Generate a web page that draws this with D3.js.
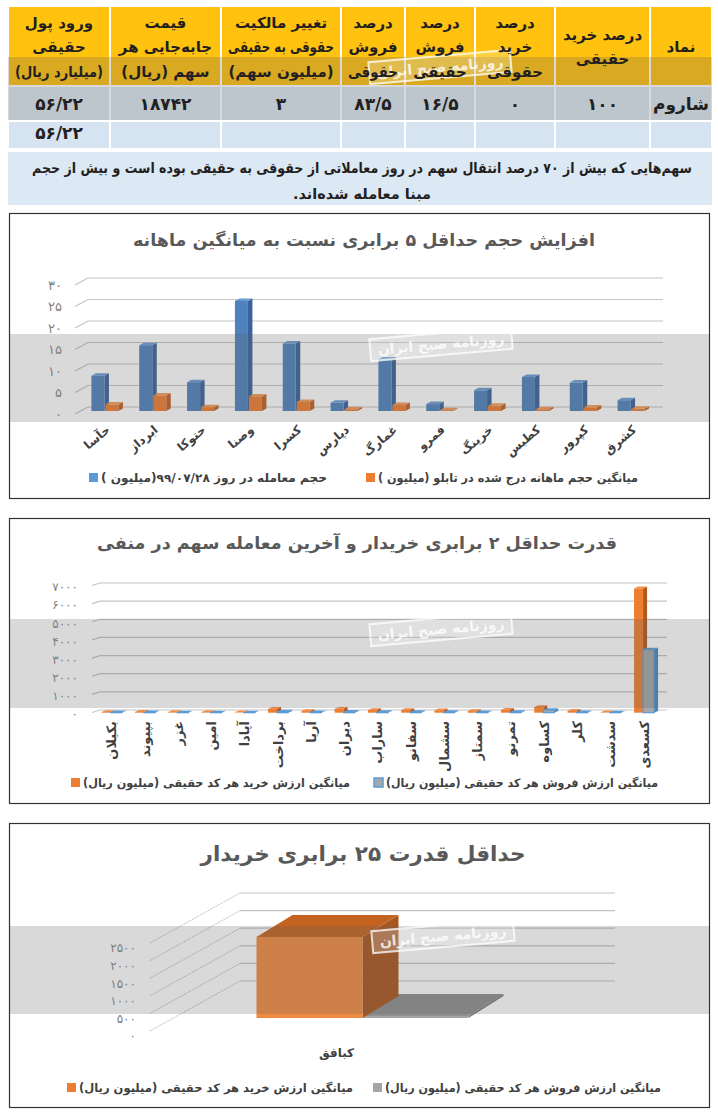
<!DOCTYPE html>
<html>
<head>
<meta charset="utf-8">
<script src="https://cdn.jsdelivr.net/npm/d3@7"></script>
<style>
  body { margin: 0; background: #fff; }
  svg { display: block; }
  text { font-family: "DejaVu Sans", sans-serif; }
</style>
</head>
<body>
<script>
// ---- data ----
var tableHeaders = [
  ["نماد"],
  ["درصد خرید", "حقیقی"],
  ["درصد", "خرید", "حقوقی"],
  ["درصد", "فروش", "حقیقی"],
  ["درصد", "فروش", "حقوقی"],
  ["تغییر مالکیت", "حقوقی به حقیقی", "(میلیون سهم)"],
  ["قیمت", "جابه‌جایی هر", "سهم (ریال)"],
  ["ورود پول", "حقیقی", "(میلیارد ریال)"]
];
var tableSymbol = "شاروم";
var tableRow = [100, 0, 16.5, 83.5, 3, 18742, 56.22];
var tableTotal = 56.22;
var tableNote = ["سهم‌هایی که بیش از ۷۰ درصد انتقال سهم در روز معاملاتی از حقوقی به حقیقی بوده است و بیش از حجم",
                 "مبنا معامله شده‌اند."];

var volTitle = "افزایش حجم حداقل ۵ برابری نسبت به میانگین ماهانه";
var volSymbols = ["حآسا", "ابرداز", "حتوکا", "وصنا", "کسرا", "دپارس", "غمارگ", "فمرو", "خرینگ", "کطبس", "کپرور", "کشرق"];
var volToday = [8.2, 15.3, 6.7, 25.6, 15.7, 1.9, 12.0, 1.6, 4.8, 7.9, 6.6, 2.5];
var volMonthAvg = [1.5, 3.6, 0.9, 3.4, 2.1, 0.4, 1.4, 0.2, 1.2, 0.4, 0.8, 0.5];
var volLegend = ["حجم معامله در روز ۹۹/۰۷/۲۸(میلیون )", "میانگین حجم ماهانه درج شده در تابلو (میلیون )"];

var buyTitle = "قدرت حداقل ۲ برابری خریدار و آخرین معامله سهم در منفی";
var buySymbols = ["بکیلان", "بپیوند", "غزر", "امین", "آپادا", "برداخت", "آریا", "دیران", "ساراب", "سفانو", "سشمال", "سمتاز", "تمرنو", "کساوه", "کلر", "سدشت", "کسعدی"];
var buyAvg = [40, 45, 35, 35, 20, 220, 90, 220, 145, 145, 130, 90, 165, 310, 110, 25, 6850];
var sellAvg = [20, 20, 15, 15, 10, 60, 25, 50, 30, 30, 30, 25, 30, 150, 25, 10, 3480];

var powerTitle = "حداقل قدرت ۲۵ برابری خریدار";
var powerSymbols = ["کبافق"];
var powerBuy = [2300];
var powerSell = [60];

var valueLegend = ["میانگین ارزش خرید هر کد حقیقی (میلیون ریال)", "میانگین ارزش فروش هر کد حقیقی (میلیون ریال)"];
var stampText = "روزنامه صبح ایران";

// ---- helpers ----
function fa(v) {
  return String(v).replace(/\./g, "/").replace(/[0-9]/g, function (d) { return "۰۱۲۳۴۵۶۷۸۹"[+d]; });
}

var svg = d3.select("body").append("svg").attr("width", 718).attr("height", 1117);

function rtl(g, x, y, str, size, weight, color) {
  return g.append("text")
    .attr("x", x).attr("y", y)
    .attr("direction", "rtl").style("direction", "rtl")
    .attr("text-anchor", "middle")
    .attr("font-size", size).attr("font-weight", weight)
    .attr("fill", color)
    .text(str);
}

function fit(t, w, always) {
  var l = t.node().getComputedTextLength();
  if (always || l > w) t.attr("textLength", w).attr("lengthAdjust", "spacingAndGlyphs");
  return t;
}

// text whose right end sits at (rx, ry), rotated by deg
function rotLabel(g, rx, ry, deg, str, size, color) {
  var t = rtl(g, 0, 0, str, size, "bold", color);
  var len = t.node().getComputedTextLength();
  var a = deg * Math.PI / 180;
  var mx = rx - len / 2 * Math.cos(a), my = ry - len / 2 * Math.sin(a);
  t.attr("transform", "translate(" + mx + "," + my + ") rotate(" + deg + ")");
  return t;
}

function legendItem(g, sx, y, sw, str, w) {
  g.append("rect").attr("x", sx).attr("y", y - 5).attr("width", 9).attr("height", 9)
    .attr("fill", sw.fill).attr("stroke", sw.stroke || "none").attr("stroke-width", 1.5);
  rtl(g, sx + 12 + w / 2, y + 4, str, 11.5, "bold", "#404040").call(function (t) { fit(t, w, true); });
}

function bar3d(g, x, yT, yB, w, dx, dy, c) {
  g.append("path").attr("fill", c.side)
    .attr("d", "M" + (x + w) + "," + yB + "L" + (x + w + dx) + "," + (yB + dy) + "L" + (x + w + dx) + "," + (yT + dy) + "L" + (x + w) + "," + yT + "Z");
  g.append("path").attr("fill", c.top)
    .attr("d", "M" + x + "," + yT + "L" + (x + dx) + "," + (yT + dy) + "L" + (x + w + dx) + "," + (yT + dy) + "L" + (x + w) + "," + yT + "Z");
  g.append("rect").attr("x", x).attr("y", yT).attr("width", w).attr("height", Math.max(0, yB - yT))
    .attr("fill", c.front).attr("stroke", c.stroke || "none").attr("stroke-width", 1.2);
}

function panel(y0, y1) {
  svg.append("rect").attr("x", 9.5).attr("y", y0 + 0.5).attr("width", 700).attr("height", y1 - y0)
    .attr("fill", "#fff").attr("stroke", "#333").attr("stroke-width", 1.2);
}

// gray watermark band + newspaper stamp laid over each block
function overlay(g, x0, x1, b0, b1, stampX) {
  g.append("rect").attr("x", x0).attr("y", b0).attr("width", x1 - x0).attr("height", b1 - b0)
    .attr("fill", "#5f6062").attr("fill-opacity", 0.24);
  var s = g.append("g").attr("transform", "translate(" + stampX + "," + (b0 + 10) + ") rotate(-5)");
  s.append("rect").attr("x", -71).attr("y", -11).attr("width", 142).attr("height", 22)
    .attr("fill", "#fff").attr("fill-opacity", 0.2).attr("stroke", "#fff").attr("stroke-opacity", 0.75).attr("stroke-width", 2);
  s.append("text").attr("text-anchor", "middle").attr("y", 5).attr("direction", "rtl")
    .attr("font-size", 14).attr("font-weight", "bold").attr("fill", "#fff").attr("fill-opacity", 0.8)
    .text(stampText);
}

// ---- table ----
var colEdges = [712, 650, 555, 475, 405, 341, 221, 110, 8];
var gT = svg.append("g"), oT = svg.append("g"), lT = svg.append("g");
var rowCells = [tableSymbol].concat(tableRow.map(fa));
tableHeaders.forEach(function (lines, i) {
  var xa = colEdges[i + 1], xb = colEdges[i], cx = (xa + xb) / 2;
  gT.append("rect").attr("x", xa + 1).attr("y", 7).attr("width", xb - xa - 2).attr("height", 78).attr("fill", "#FFC20E");
  gT.append("rect").attr("x", xa + 1).attr("y", 87).attr("width", xb - xa - 2).attr("height", 33).attr("fill", "#DAE5F0");
  gT.append("rect").attr("x", xa + 1).attr("y", 122).attr("width", xb - xa - 2).attr("height", 26).attr("fill", "#D6E3F0");
  lines.forEach(function (ln, j) {
    var t = rtl(lT, cx, 47 + (j - (lines.length - 1) / 2) * 24.5 + 5, ln, 15, "bold", "#231F20");
    fit(t, xb - xa - 14);
  });
  rtl(lT, cx, 110, rowCells[i], 17, "bold", "#231F20");
});
rtl(lT, (colEdges[7] + colEdges[8]) / 2, 139, fa(tableTotal), 17, "bold", "#231F20");
gT.append("rect").attr("x", 8).attr("y", 152).attr("width", 704).attr("height", 53).attr("fill", "#DCE8F4");
fit(rtl(lT, 362, 173, tableNote[0], 14.5, "bold", "#231F20"), 660);
rtl(lT, 362, 199, tableNote[1], 14.5, "bold", "#231F20");
overlay(oT, 8, 712, 57, 120, 440);

// ---- chart 1: volume ----
panel(213, 498);
var c1 = svg.append("g"), o1 = svg.append("g"), l1 = svg.append("g");
rtl(l1, 364, 246, volTitle, 17, "bold", "#595959").call(function (t) { fit(t, 462, true); });
var y1 = d3.scaleLinear().domain([0, 30]).range([407, 278]);
var x1 = d3.scaleBand().domain(volSymbols).range([81, 655]);
c1.selectAll("path.grid").data(y1.ticks(6)).enter().append("path")
  .attr("fill", "none").attr("stroke", "#c4c4c4").attr("stroke-width", 1.2)
  .attr("d", function (d) { return "M75," + (y1(d) + 7) + "L88," + y1(d) + "L663," + y1(d); });
var ax1 = l1.append("g").attr("transform", "translate(65,7)")
  .call(d3.axisLeft(y1).ticks(6).tickSize(0).tickFormat(fa));
ax1.select(".domain").remove();
ax1.attr("font-family", null).attr("font-size", null);
ax1.selectAll("text").attr("fill", "#808080").attr("font-size", 13);
var blue1 = { front: "#4F81BD", side: "#3A6399", top: "#6A9BD4" };
var orange1 = { front: "#ED7D31", side: "#C0601F", top: "#F29A58" };
c1.selectAll("g.grp").data(volSymbols).enter().append("g").each(function (s, i) {
  var g = d3.select(this), cx = x1(s) + x1.bandwidth() / 2;
  bar3d(g, cx - 13.5, y1(volToday[i]) + 4, y1(0) + 4, 13, 4.5, -2.5, blue1);
  bar3d(g, cx + 0.5, y1(volMonthAvg[i]) + 4, y1(0) + 4, 13, 4.5, -2.5, orange1);
  rotLabel(l1, cx + 6, 431, -40, s, 12, "#404040");
});
legendItem(l1, 89, 478, { fill: "#5B9BD5" }, volLegend[0], 226);
legendItem(l1, 366, 478, { fill: "#ED7D31" }, volLegend[1], 260);
overlay(o1, 10, 709, 334, 422, 441);

// ---- chart 2: buyer power ----
panel(518, 803);
var c2 = svg.append("g"), o2 = svg.append("g"), l2 = svg.append("g");
rtl(l2, 357, 549, buyTitle, 17, "bold", "#595959").call(function (t) { fit(t, 520, true); });
var y2 = d3.scaleLinear().domain([0, 7000]).range([710, 583]);
var x2 = d3.scaleBand().domain(buySymbols).range([94.6, 660.2]);
c2.selectAll("path.grid").data(y2.ticks(7)).enter().append("path")
  .attr("fill", "none").attr("stroke", "#c4c4c4").attr("stroke-width", 1.2)
  .attr("d", function (d) { return "M92," + (y2(d) + 2.5) + "L100," + y2(d) + "L667," + y2(d); });
var ax2 = l2.append("g").attr("transform", "translate(81,4)")
  .call(d3.axisLeft(y2).ticks(7).tickSize(0).tickFormat(fa));
ax2.select(".domain").remove();
ax2.attr("font-family", null).attr("font-size", null);
ax2.selectAll("text").attr("fill", "#808080").attr("font-size", 12).attr("letter-spacing", 2.2);
var orange2 = { front: "#ED7D31", side: "#B55718", top: "#F08D48" };
var blue2 = { front: "#A4A7AB", side: "#4A86C0", top: "#5B9BD5", stroke: "#5B9BD5" };
c2.selectAll("g.grp").data(buySymbols).enter().append("g").each(function (s, i) {
  var g = d3.select(this), cx = x2(s) + x2.bandwidth() / 2;
  bar3d(g, cx - 9.5, y2(buyAvg[i]) + 2.7, y2(0) + 2.7, 9, 4, -1.8, orange2);
  bar3d(g, cx - 0.5, y2(sellAvg[i]) + 2.7, y2(0) + 2.7, 11, 4, -1.8, blue2);
  rotLabel(l2, cx + 5, 721, -90, s, 13, "#404040");
});
legendItem(l2, 71, 783, { fill: "#ED7D31" }, valueLegend[0], 267);
legendItem(l2, 374, 783, { fill: "#A4A7AB", stroke: "#5B9BD5" }, valueLegend[1], 272);
overlay(o2, 10, 709, 619, 708, 441);

// ---- chart 3: min 25x buyer power ----
panel(823, 1107);
var c3 = svg.append("g"), o3 = svg.append("g"), l3 = svg.append("g");
rtl(l3, 363, 861, powerTitle, 21, "bold", "#595959").call(function (t) { fit(t, 325, true); });
var y3back = d3.scaleLinear().domain([0, 2500]).range([981, 893]);
var y3front = d3.scaleLinear().domain([0, 2500]).range([1033, 945]);
var y3box = d3.scaleLinear().domain([0, 2500]).range([1018, 930]);
var x3 = d3.scaleBand().domain(powerSymbols).range([150, 575]);
var x3s = d3.scaleBand().domain(["buy", "sell"]).range([0, 212]);
var t3 = y3back.ticks(5);
c3.selectAll("line.wall").data(t3).enter().append("line")
  .attr("x1", 240).attr("x2", 615).attr("y1", function (d) { return y3back(d); }).attr("y2", function (d) { return y3back(d); })
  .attr("stroke", "#c4c4c4").attr("stroke-width", 1.2);
c3.selectAll("line.side").data(t3).enter().append("line")
  .attr("x1", 150).attr("x2", 240).attr("y1", function (d) { return y3front(d) - 2; }).attr("y2", function (d) { return y3back(d); })
  .attr("stroke", "#b0b0b0").attr("stroke-width", 0.8).attr("stroke-dasharray", "2,1");
var ax3 = l3.append("g").attr("transform", "translate(139,3)")
  .call(d3.axisLeft(y3front).ticks(5).tickSize(0).tickFormat(fa));
ax3.select(".domain").remove();
ax3.attr("font-family", null).attr("font-size", null);
ax3.selectAll("text").attr("fill", "#808080").attr("font-size", 12).attr("letter-spacing", 2.2);
var orange3 = { front: "#EF8A40", side: "#A9561E", top: "#C4631F" };
var gray3 = { front: "#A5A5A5", side: "#7A7A7A", top: "#8E8E8E" };
powerSymbols.forEach(function (s, i) {
  var base = x3(s) + x3.bandwidth() / 2 - x3s.range()[1] / 2;
  bar3d(c3, base + x3s("sell"), y3box(powerSell[i]), y3box(0), x3s.bandwidth(), 35, -22, gray3);
  bar3d(c3, base + x3s("buy"), y3box(powerBuy[i]), y3box(0), x3s.bandwidth(), 36, -22, orange3);
  rtl(l3, x3(s) + x3.bandwidth() / 2 - 26, 1057, s, 12, "bold", "#404040");
});
legendItem(l3, 67, 1088, { fill: "#ED7D31" }, valueLegend[0], 274);
legendItem(l3, 373, 1088, { fill: "#A5A5A5" }, valueLegend[1], 276);
overlay(o3, 10, 709, 926, 1014, 443);
</script>
</body>
</html>
